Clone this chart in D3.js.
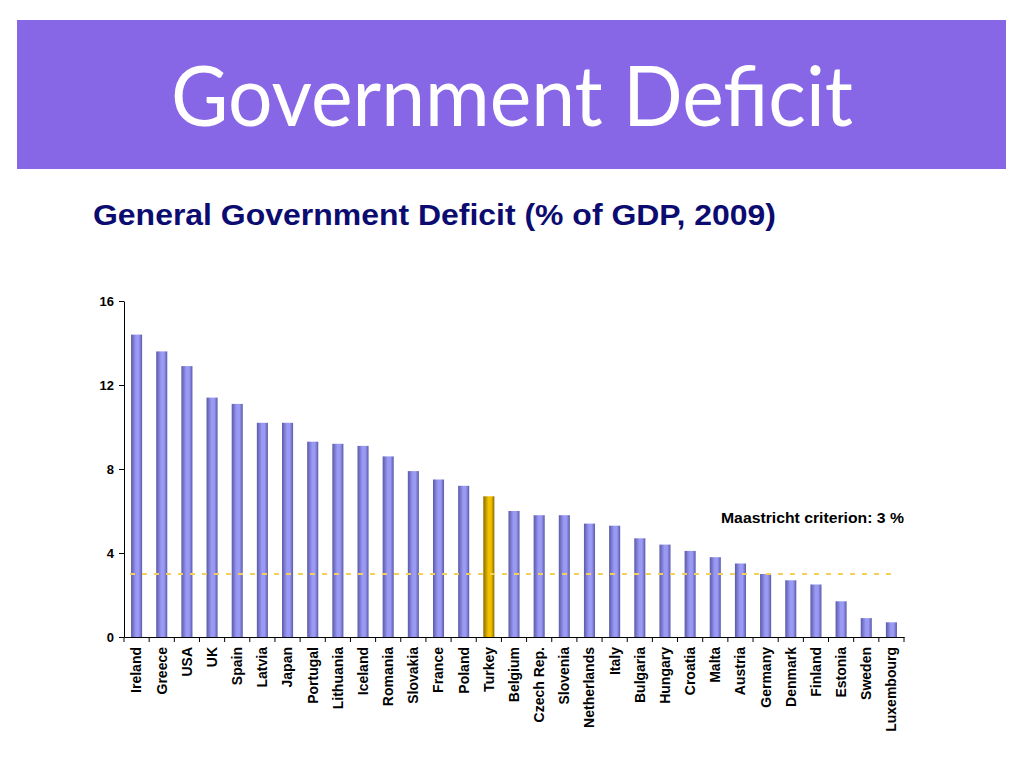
<!DOCTYPE html>
<html>
<head>
<meta charset="utf-8">
<script src="https://cdn.jsdelivr.net/npm/d3@7"></script>
<style>
  body { margin: 0; background: #fff; }
  .axis path, .axis line { stroke: #000; }
  .axis text { font-family: "Liberation Sans", Arial, sans-serif; font-weight: bold; fill: #000; }
</style>
</head>
<body>
<div class="chart"></div>
<script>
const countries = ["Ireland", "Greece", "USA", "UK", "Spain", "Latvia", "Japan", "Portugal", "Lithuania", "Iceland",
    "Romania", "Slovakia", "France", "Poland", "Turkey", "Belgium", "Czech Rep.", "Slovenia", "Netherlands", "Italy",
    "Bulgaria", "Hungary", "Croatia", "Malta", "Austria", "Germany", "Denmark", "Finland", "Estonia", "Sweden", "Luxembourg"]
const deficit = [14.4, 13.6, 12.9, 11.4, 11.1, 10.2, 10.2, 9.3, 9.2, 9.1,
    8.6, 7.9, 7.5, 7.2, 6.7, 6.0, 5.8, 5.8, 5.4, 5.3,
    4.7, 4.4, 4.1, 3.8, 3.5, 3.0, 2.7, 2.5, 1.7, 0.9, 0.7]
const yTicks = [0, 4, 8, 12, 16]
const highlight = "Turkey"
const criterion = 3

const data = countries.map((c, i) => ({country: c, value: deficit[i]}))

const svg = d3.select(".chart")
    .append("svg")
    .attr("width", 1024)
    .attr("height", 768)

const defs = svg.append("defs")
function barGradient(id, edge, mid) {
    const g = defs.append("linearGradient").attr("id", id)
        .attr("x1", "0%").attr("x2", "100%").attr("y1", "0%").attr("y2", "0%")
    g.append("stop").attr("offset", "0%").attr("stop-color", edge)
    g.append("stop").attr("offset", "45%").attr("stop-color", mid)
    g.append("stop").attr("offset", "70%").attr("stop-color", mid)
    g.append("stop").attr("offset", "100%").attr("stop-color", edge)
}
barGradient("blueBar", "#5a5aa8", "#9a9af5")
barGradient("goldBar", "#8a6a00", "#f2c200")

// header banner
svg.append("rect")
    .attr("x", 17).attr("y", 20)
    .attr("width", 989).attr("height", 149)
    .attr("fill", "#8767e6")

svg.append("text")
    .attr("x", 512).attr("y", 126)
    .attr("text-anchor", "middle")
    .attr("fill", "#fff")
    .attr("font-family", "Lato, 'Open Sans', sans-serif")
    .attr("font-size", 84)
    .attr("textLength", 682)
    .attr("lengthAdjust", "spacingAndGlyphs")
    .text("Government Deficit")

svg.append("text")
    .attr("x", 93).attr("y", 225)
    .attr("fill", "#0c0c70")
    .attr("font-family", "'Liberation Sans', Arial, sans-serif")
    .attr("font-weight", "bold")
    .attr("font-size", 29)
    .attr("textLength", 683)
    .attr("lengthAdjust", "spacingAndGlyphs")
    .text("General Government Deficit (% of GDP, 2009)")

const margin = {top: 301, left: 124}
const w = 780
const h = 336

const g = svg.append("g")
    .attr("transform", `translate(${margin.left}, ${margin.top})`)

const xScale = d3.scaleBand()
    .domain(countries)
    .range([0, w])
    .paddingInner(0.56)
    .paddingOuter(0.28)

const yScale = d3.scaleLinear()
    .domain([0, 16])
    .range([h, 0])

// bars
g.selectAll("rect.bar")
    .data(data)
    .enter()
    .append("rect")
    .attr("class", "bar")
    .attr("x", d => xScale(d.country))
    .attr("y", d => yScale(d.value))
    .attr("width", xScale.bandwidth())
    .attr("height", d => h - yScale(d.value))
    .attr("fill", d => d.country == highlight ? "url(#goldBar)" : "url(#blueBar)")

// criterion line
g.append("line")
    .attr("x1", 6)
    .attr("x2", w - 12)
    .attr("y1", yScale(criterion))
    .attr("y2", yScale(criterion))
    .attr("stroke", "#f4cf5a")
    .attr("stroke-width", 2)
    .attr("stroke-dasharray", "5,7")

g.append("text")
    .attr("x", w)
    .attr("y", yScale(criterion) - 51)
    .attr("text-anchor", "end")
    .attr("font-family", "'Liberation Sans', Arial, sans-serif")
    .attr("font-weight", "bold")
    .attr("font-size", 15.5)
    .attr("textLength", 183)
    .attr("lengthAdjust", "spacingAndGlyphs")
    .text("Maastricht criterion: " + criterion + " %")

// axes
const xAxis = d3.axisBottom(xScale).tickSize(0).tickSizeOuter(0)
const xg = g.append("g")
    .attr("class", "axis x-axis")
    .attr("transform", `translate(0, ${h})`)
    .call(xAxis)
xg.selectAll(".tick text")
    .attr("font-size", 14)
    .attr("transform", "rotate(-90)")
    .attr("text-anchor", "end")
    .attr("x", -10)
    .attr("y", 0)
    .attr("dy", "0.35em")

// tick marks at band boundaries
const step = xScale.step()
xg.selectAll("line.sep")
    .data(d3.range(countries.length + 1))
    .enter()
    .append("line")
    .attr("class", "sep")
    .attr("x1", i => i * step)
    .attr("x2", i => i * step)
    .attr("y1", 0)
    .attr("y2", 5)
    .attr("stroke", "#000")

const yAxis = d3.axisLeft(yScale).tickValues(yTicks).tickSize(5).tickSizeOuter(0).tickPadding(5)
g.append("g")
    .attr("class", "axis y-axis")
    .call(yAxis)
    .selectAll("text")
    .attr("font-size", 13)
</script>
</body>
</html>
